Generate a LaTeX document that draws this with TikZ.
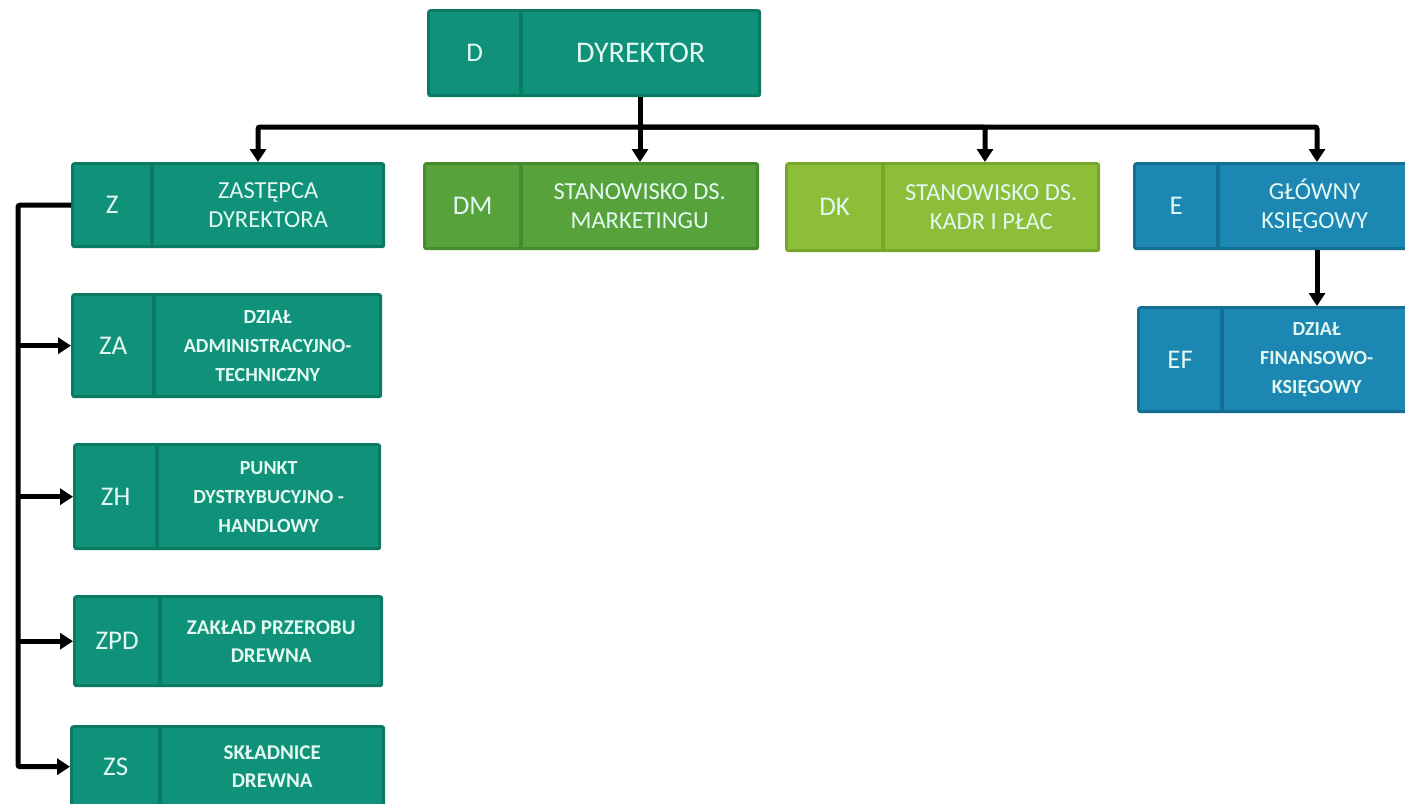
\documentclass[tikz,border=0pt]{standalone}
\usepackage{fontspec}
\setmainfont{Carlito}
\usetikzlibrary{arrows.meta,calc}
\definecolor{gF}{HTML}{10927A}
\definecolor{gD}{HTML}{0B7A62}
\definecolor{mF}{HTML}{58A23C}
\definecolor{mD}{HTML}{468A2E}
\definecolor{kF}{HTML}{8CBE3A}
\definecolor{kD}{HTML}{76A62C}
\definecolor{bF}{HTML}{1B87B2}
\definecolor{bD}{HTML}{146F93}
\definecolor{txt}{HTML}{E2F8F1}
\newcommand\fcode{\fontsize{27}{30}\selectfont}
\newcommand\ftxtA{\fontsize{24.5}{29}\selectfont}
\newcommand\ftxtB{\fontsize{20}{29}\selectfont\bfseries}
\newcommand\ftxtC{\fontsize{21}{28}\selectfont\bfseries}
\newcommand\ftxtD{\fontsize{30}{32}\selectfont}
\newcommand\curft{\ftxtA}
\tikzset{
  outerbox/.style={draw=none, rounded corners=3pt, inner sep=0pt},
  cellbox/.style={inner sep=0pt, text=txt, align=center, anchor=north west},
  conn/.style={line width=5pt, black, rounded corners=2pt},
  arr/.style={conn, -{Triangle[width=16pt,length=13pt]}},
}
% #1 name, #2 x1, #3 y1, #4 x2, #5 y2, #6 xdiv, #7 colour prefix, #8 code, #9 text
\newcommand\obox[9]{%
  \pgfmathsetmacro\obw{#4-#2}%
  \pgfmathsetmacro\obh{#5-#3}%
  \pgfmathsetmacro\ocw{#6-#2-5}%
  \pgfmathsetmacro\otw{#4-#6-5}%
  \pgfmathsetmacro\oih{#5-#3-6}%
  \node[outerbox, fill=#7D, minimum width=\obw pt, minimum height=\obh pt, anchor=north west] (#1) at (#2,#3) {};
  \node[cellbox, fill=#7F, font=\fcode, minimum width=\ocw pt, minimum height=\oih pt] (#1c) at ({#2+3},{#3+3}) {#8};
  \node[cellbox, fill=#7F, font=\curft, minimum width=\otw pt, minimum height=\oih pt] (#1t) at ({#6+2},{#3+3}) {#9};
}
\begin{document}
\begin{tikzpicture}[x=1pt,y=-1pt]
\useasboundingbox (0,0) rectangle (1405,803);
\clip (0,0) rectangle (1405,803);
\fill[white] (0,0) rectangle (1405,803);

\renewcommand\curft{\ftxtD}
\obox{D}{427}{9}{761}{97}{521}{g}{D}{DYREKTOR}
\renewcommand\curft{\ftxtA}
\obox{Z}{71}{162}{385}{248}{152}{g}{Z}{ZASTĘPCA\\DYREKTORA}
\obox{DM}{423}{162}{759}{250}{521}{m}{DM}{STANOWISKO DS.\\MARKETINGU}
\obox{DK}{785}{162}{1100}{252}{883}{k}{DK}{STANOWISKO DS.\\KADR I PŁAC}
\obox{E}{1133}{162}{1412}{250}{1218}{b}{E}{GŁÓWNY\\KSIĘGOWY}
\renewcommand\curft{\ftxtB}
\obox{EF}{1137}{306}{1412}{413}{1222}{b}{EF}{DZIAŁ\\FINANSOWO-\\KSIĘGOWY}
\obox{ZA}{71}{293}{382}{398}{154}{g}{ZA}{DZIAŁ\\ADMINISTRACYJNO-\\TECHNICZNY}
\obox{ZH}{73}{443}{381}{550}{157}{g}{ZH}{PUNKT\\DYSTRYBUCYJNO -\\HANDLOWY}
\renewcommand\curft{\ftxtC}
\obox{ZPD}{73}{595}{383}{687}{160}{g}{ZPD}{ZAKŁAD PRZEROBU\\DREWNA}
\obox{ZS}{70}{725}{385}{808}{160}{g}{ZS}{SKŁADNICE\\DREWNA}

\coordinate (bus) at (640,127);
\coordinate (xz) at (258,0);
\coordinate (xm) at (640,0);
\coordinate (xk) at (985,0);
\coordinate (xe) at (1317,0);
\coordinate (rail) at (18,0);

\draw[conn] (D.south -| xm) -- (bus);
\draw[arr] (bus) -| (Z.north -| xz);
\draw[arr] (bus) -- (DM.north -| xm);
\draw[arr] (bus) -| (DK.north -| xk);
\draw[arr] (bus) -| (E.north -| xe);
\draw[arr] (E.south -| xe) -- (EF.north -| xe);

\draw[arr] (Z.west) -| (rail |- ZS.west) -- (ZS.west);
\draw[arr] (rail |- ZA.west) -- (ZA.west);
\draw[arr] (rail |- ZH.west) -- (ZH.west);
\draw[arr] (rail |- ZPD.west) -- (ZPD.west);
\end{tikzpicture}
\end{document}
